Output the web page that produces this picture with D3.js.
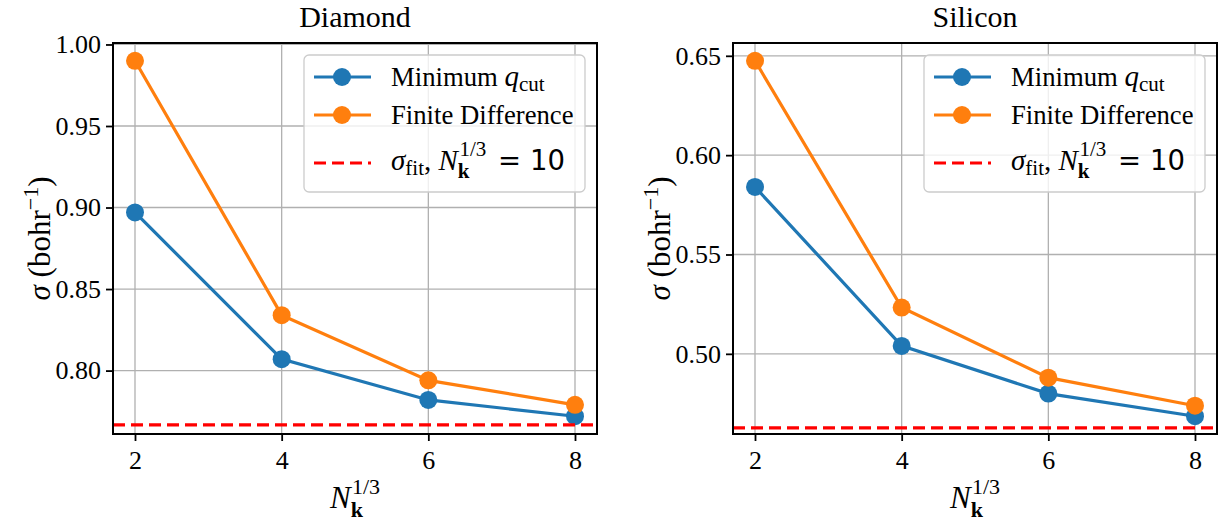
<!DOCTYPE html>
<html>
<head>
<meta charset="utf-8">
<script src="https://cdn.jsdelivr.net/npm/d3@7/dist/d3.min.js"></script>
<style>
  html, body { margin: 0; padding: 0; background: #fff; }
  svg { display: block; }
  text { font-family: "Liberation Serif", "Times New Roman", serif; fill: #000; }
</style>
</head>
<body>
<svg id="chart" width="1225" height="527"></svg>
<script>
// ---- data ----
const nk = [2, 4, 6, 8];
const xTicks = [2, 4, 6, 8];

const diamondMinQcut = [0.897, 0.807, 0.782, 0.772];
const diamondFiniteDiff = [0.990, 0.834, 0.794, 0.779];
const diamondSigmaFit = 0.7667;
const diamondYTicks = [0.80, 0.85, 0.90, 0.95, 1.00];

const siliconMinQcut = [0.584, 0.504, 0.480, 0.4686];
const siliconFiniteDiff = [0.6475, 0.5233, 0.488, 0.4739];
const siliconSigmaFit = 0.4627;
const siliconYTicks = [0.50, 0.55, 0.60, 0.65];

const panelTitles = ["Diamond", "Silicon"];
const seriesNames = ["Minimum", "Finite Difference"];
const colors = { blue: "#1f77b4", orange: "#ff7f0e", red: "#ff0000", grid: "#b0b0b0" };

// ---- layout ----
const svg = d3.select("#chart");
const panels = [
  { left: 113, title: panelTitles[0], minq: diamondMinQcut, fd: diamondFiniteDiff, fit: diamondSigmaFit, yticks: diamondYTicks },
  { left: 733, title: panelTitles[1], minq: siliconMinQcut, fd: siliconFiniteDiff, fit: siliconSigmaFit, yticks: siliconYTicks }
];
const W = 484, topY = 43, H = 391;
const baseFont = 26;
const labelFont = 31;
const serif = "Liberation Serif";

function pad(lo, hi) { const m = (hi - lo) * 0.05; return [lo - m, hi + m]; }

panels.forEach(p => {
  const g = svg.append("g").attr("transform", `translate(${p.left},${topY})`);
  const x = d3.scaleLinear().domain(pad(d3.min(nk), d3.max(nk))).range([0, W]);
  const all = p.minq.concat(p.fd);
  const y = d3.scaleLinear().domain(pad(d3.min(all), d3.max(all))).range([H, 0]);

  // grid
  g.append("g").selectAll("line").data(xTicks).join("line")
    .attr("x1", d => x(d)).attr("x2", d => x(d)).attr("y1", 0).attr("y2", H)
    .attr("stroke", colors.grid).attr("stroke-width", 1.3);
  g.append("g").selectAll("line").data(p.yticks).join("line")
    .attr("y1", d => y(d)).attr("y2", d => y(d)).attr("x1", 0).attr("x2", W)
    .attr("stroke", colors.grid).attr("stroke-width", 1.3);

  // axes
  const xa = g.append("g").attr("transform", `translate(0,${H})`)
    .call(d3.axisBottom(x).tickValues(xTicks).tickFormat(d3.format("d")).tickSize(7).tickPadding(6));
  const ya = g.append("g")
    .call(d3.axisLeft(y).tickValues(p.yticks).tickFormat(d3.format(".2f")).tickSize(7).tickPadding(5));
  [xa, ya].forEach(a => {
    a.attr("font-family", serif).attr("font-size", baseFont);
    a.select(".domain").remove();
    a.selectAll(".tick line").attr("stroke", "#000").attr("stroke-width", 1.8);
    a.selectAll(".tick text").style("font-family", serif).style("font-size", baseFont + "px").attr("fill", "#000");
  });
  xa.selectAll(".tick text").attr("dy", "0.85em");

  const clip = "clip" + p.left;
  g.append("clipPath").attr("id", clip).append("rect").attr("width", W).attr("height", H);
  const plot = g.append("g").attr("clip-path", `url(#${clip})`);

  const line = d3.line().x((d, i) => x(nk[i])).y(d => y(d));
  [[p.minq, colors.blue], [p.fd, colors.orange]].forEach(([vals, c]) => {
    plot.append("path").datum(vals).attr("d", line).attr("fill", "none")
      .attr("stroke", c).attr("stroke-width", 3.2);
    plot.append("g").selectAll("circle").data(vals).join("circle")
      .attr("cx", (d, i) => x(nk[i])).attr("cy", d => y(d)).attr("r", 9).attr("fill", c);
  });
  plot.append("line").attr("x1", 0).attr("x2", W).attr("y1", y(p.fit)).attr("y2", y(p.fit))
    .attr("stroke", colors.red).attr("stroke-width", 3.2).attr("stroke-dasharray", "12,6");

  // spines
  g.append("rect").attr("width", W).attr("height", H).attr("fill", "none")
    .attr("stroke", "#000").attr("stroke-width", 2);

  // title
  svg.append("text").attr("x", p.left + W / 2).attr("y", 27).attr("text-anchor", "middle")
    .attr("font-size", 30).text(p.title);

  // x label
  const xl = svg.append("text").attr("x", p.left + W / 2).attr("y", 508).attr("text-anchor", "middle")
    .attr("font-size", labelFont);
  xl.append("tspan").attr("font-style", "italic").text("N");
  xl.append("tspan").attr("font-weight", "bold").attr("font-size", 22).attr("dy", 9).text("k");
  xl.append("tspan").attr("font-size", 22).attr("dx", -11).attr("dy", -23).text("1/3");

  // y label
  const yl = svg.append("text").attr("transform", `translate(${p.left - 63},${topY + H / 2}) rotate(-90)`)
    .attr("text-anchor", "middle").attr("font-size", labelFont);
  yl.append("tspan").attr("font-style", "italic").text("σ");
  yl.append("tspan").text(" (bohr");
  yl.append("tspan").attr("font-size", 22).attr("dy", -12).text("−1");
  yl.append("tspan").attr("dy", 12).text(")");

  // legend
  const lg = svg.append("g").attr("transform", `translate(${p.left + W - 293},55)`);
  lg.append("rect").attr("width", 281).attr("height", 137).attr("rx", 5)
    .attr("fill", "#fff").attr("fill-opacity", 0.8).attr("stroke", "#cccccc").attr("stroke-width", 1.3);
  const rows = [22, 60, 108];
  [colors.blue, colors.orange].forEach((c, i) => {
    lg.append("line").attr("x1", 10).attr("x2", 67).attr("y1", rows[i]).attr("y2", rows[i])
      .attr("stroke", c).attr("stroke-width", 3.2);
    lg.append("circle").attr("cx", 38).attr("cy", rows[i]).attr("r", 9).attr("fill", c);
  });
  lg.append("line").attr("x1", 10).attr("x2", 67).attr("y1", rows[2]).attr("y2", rows[2])
    .attr("stroke", colors.red).attr("stroke-width", 3.2).attr("stroke-dasharray", "12,6");

  const t1 = lg.append("text").attr("x", 87).attr("y", rows[0] + 9).attr("font-size", 26.7);
  t1.append("tspan").text(seriesNames[0] + " ");
  t1.append("tspan").attr("font-style", "italic").attr("font-size", 29).text("q");
  t1.append("tspan").attr("font-size", 21).attr("dy", 5).text("cut");

  lg.append("text").attr("x", 87).attr("y", rows[1] + 9).attr("font-size", 26.7).text(seriesNames[1]);

  const t3 = lg.append("text").attr("x", 87).attr("y", rows[2] + 7).attr("font-size", 29);
  t3.append("tspan").attr("font-style", "italic").text("σ");
  t3.append("tspan").attr("font-size", 21).attr("dy", 5).text("fit");
  t3.append("tspan").attr("dy", -5).text(", ");
  t3.append("tspan").attr("font-style", "italic").text("N");
  t3.append("tspan").attr("font-weight", "bold").attr("font-size", 21).attr("dy", 8).text("k");
  t3.append("tspan").attr("font-size", 21).attr("dx", -10).attr("dy", -22).text("1/3");
  t3.append("tspan").attr("dy", 14).attr("dx", 3).attr("font-family", "DejaVu Sans").attr("font-size", 27.5).text(" = 10");
});
</script>
</body>
</html>
